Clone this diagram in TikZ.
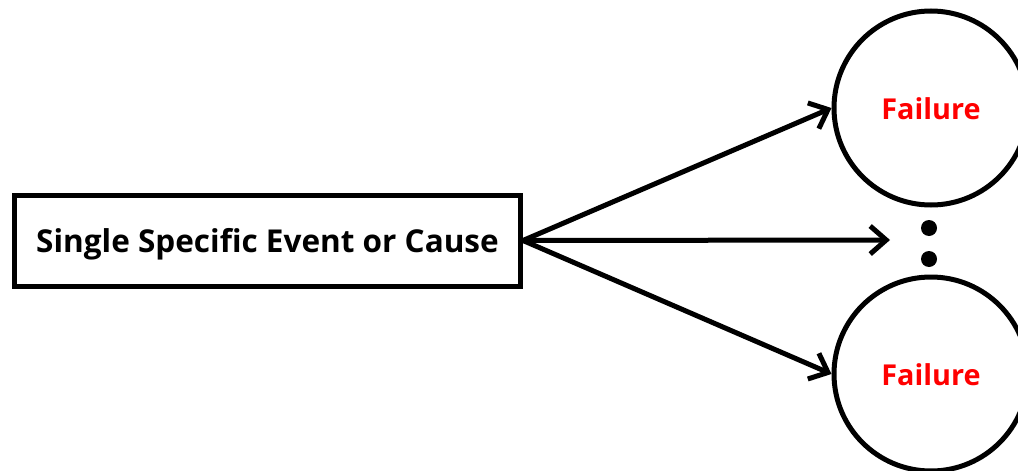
\documentclass[tikz,border=0pt]{standalone}
\usepackage{fontspec}
\setmainfont{Open Sans}
\usetikzlibrary{arrows.meta}
\tikzset{
  causebox/.style={draw=black, line width=5pt, minimum width=506pt, minimum height=91pt,
    inner sep=0pt, text height=26pt, text depth=2pt,
    font=\bfseries\fontsize{31.5}{36}\selectfont},
  failnode/.style={draw=black, line width=5pt, circle, minimum size=194pt, inner sep=0pt,
    text height=24pt, text depth=1pt,
    text=red, font=\bfseries\fontsize{28.8}{34}\selectfont},
  dotnode/.style={fill=black, circle, minimum size=16pt, inner sep=0pt},
  link/.style={line width=5pt, -{Straight Barb[length=16pt,width=28pt,line width=5pt]}}
}
\begin{document}
\begin{tikzpicture}[x=1pt,y=-1pt]
  \useasboundingbox (0,0) rectangle (1018,471);
  \clip (0,0) rectangle (1018,471);
  \fill[white] (0,0) rectangle (1018,471);
  \node[causebox] (cause) at (267.5,240.5) {Single Specific Event or Cause};
  \node[failnode] (f1) at (931,108) {Failure};
  \node[failnode] (f2) at (931,374) {Failure};
  \node[dotnode] (d1) at (929,228) {};
  \node[dotnode] (d2) at (929,259) {};
  \coordinate (mid) at (890,240);
  \draw[link] (cause.east) -- (f1.west);
  \draw[link] (cause.east) -- (mid);
  \draw[link] (cause.east) -- (f2.west);
\end{tikzpicture}
\end{document}
